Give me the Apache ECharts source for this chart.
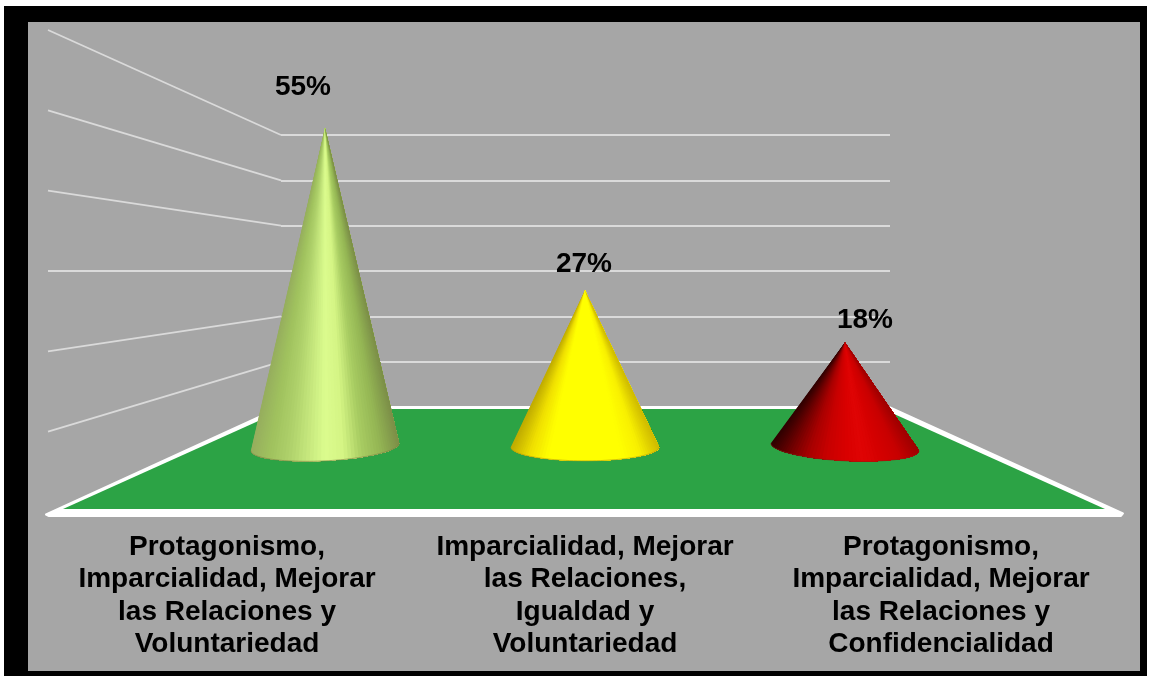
<!DOCTYPE html>
<html>
<head>
<meta charset="utf-8">
<style>
html,body{margin:0;padding:0;background:#fff;width:1151px;height:680px;overflow:hidden}
#outer{position:absolute;left:4px;top:6px;width:1143px;height:670px;background:#000}
#inner{position:absolute;left:28px;top:22px;width:1112px;height:649px;background:#a6a6a6}
#chart{position:absolute;left:0;top:0;width:1151px;height:680px}
</style>
<script src="https://cdn.jsdelivr.net/npm/echarts@6/dist/echarts.min.js"></script>
</head>
<body>
<div id="outer"></div><div id="inner"></div><div id="chart"></div>
<script>
const categories = [
  'Protagonismo,\nImparcialidad, Mejorar\nlas Relaciones y\nVoluntariedad',
  'Imparcialidad, Mejorar\nlas Relaciones,\nIgualdad y\nVoluntariedad',
  'Protagonismo,\nImparcialidad, Mejorar\nlas Relaciones y\nConfidencialidad'
];
const values = [55, 27, 18];
const gridTicks = [10, 20, 30, 40, 50, 60];

const axisMax = 60, axisStep = 10;
const wall = {left: 281, right: 890, top: 135, bottom: 407};
const front = {left: 48, right: 1122, top: 30, bottom: 512};
const coneBox = {left: 195, width: 780, top: 99, bottom: 447};
const categoryLabelShift = [0, 0, -4];
const valueLabelShift = [[-22, -41], [-1, -26], [20, -22]];
const coneRadius = 0.285, coneSquash = 0.187, coneTilt = 0.05;
const conePalettes = [
  ['#96ae5e','#a0c25e','#aed06a','#c4e67c','#dcfc8e','#d4f484','#a8cc62','#94b654','#7c8f48'],
  ['#c0ac00','#f0e000','#ffff00','#ffff00','#ffff00','#ffff00','#ffff00','#f8f000','#d0bc00'],
  ['#300000','#700000','#a80000','#c80000','#d80000','#e00404','#d40000','#c80000','#a00000']
];
const baseEdge = ['#7d7f45', '#b09a10', '#8c2010'];
const font = '"Liberation Sans", Arial, sans-serif';
const lineColor = '#dadada';
const slices = 60;

function renderCone(params, api) {
  const i = api.value(0), v = api.value(1);
  const base = api.coord([i, 0]), apex = api.coord([i, v]);
  const rx = api.size([1, 0])[0] * coneRadius, ry = rx * coneSquash;
  const centre = (coneBox.left + coneBox.width / 2);
  const slope = (base[0] - centre) / (coneBox.width / 3) * coneTilt;
  const pt = t => {
    const dx = rx * Math.cos(t), dy = ry * Math.sin(t);
    return [base[0] + dx, base[1] + dy + dx * slope];
  };
  const rim = [];
  for (let k = 0; k <= slices; k++) rim.push(pt(Math.PI - k / slices * Math.PI));
  const palette = conePalettes[i];
  const children = [];
  // Each slice paints the whole remaining cone, so no anti-aliased seams appear between slices.
  for (let k = 0; k < slices; k++) {
    const mid = Math.PI - (k + 0.5) / slices * Math.PI;
    const u = (Math.cos(mid) + 1) / 2;
    children.push({
      type: 'polygon',
      shape: {points: [apex].concat(rim.slice(k))},
      style: {fill: echarts.color.lerp(u, palette)}
    });
  }
  children.push({
    type: 'polyline', shape: {points: rim},
    style: {fill: null, stroke: baseEdge[i], lineWidth: 1, opacity: 0.6}
  });
  children.push({
    type: 'text',
    style: {
      text: v + '%', x: apex[0] + valueLabelShift[i][0], y: apex[1] + valueLabelShift[i][1],
      align: 'center', verticalAlign: 'middle',
      fontFamily: font, fontWeight: 'bold', fontSize: 28, fill: '#000'
    }
  });
  return {type: 'group', children};
}

function renderSideLine(params, api) {
  const v = api.value(0);
  const frontY = front.bottom - v / axisMax * (front.bottom - front.top);
  const backY = wall.bottom - v / axisMax * (wall.bottom - wall.top);
  return {
    type: 'line',
    shape: {x1: front.left, y1: frontY, x2: wall.left, y2: backY},
    style: {stroke: lineColor, lineWidth: 1.8}
  };
}

const rich = {};
categoryLabelShift.forEach((s, i) => {
  rich['c' + i] = {
    fontFamily: font, fontWeight: 'bold', fontSize: 28, lineHeight: 32.5, color: '#000',
    padding: s >= 0 ? [0, 0, 0, s] : [0, -s, 0, 0]
  };
});

const chart = echarts.init(document.getElementById('chart'), null, {renderer: 'canvas'});
chart.setOption({
  animation: false,
  backgroundColor: 'transparent',
  graphic: [
    {type: 'polygon', z: 1, silent: true,
      shape: {points: [[46,514.5],[49,516],[1121,516],[1123,513.5],[889,407],[281,407]]},
      style: {fill: '#ffffff', stroke: '#ffffff', lineWidth: 2, lineJoin: 'round'}},
    {type: 'polygon', z: 1, silent: true,
      shape: {points: [[63,509],[1105,509],[883,409],[285,409]]},
      style: {fill: '#2ca345'}}
  ],
  grid: [
    {left: wall.left, width: wall.right - wall.left, top: wall.top, height: wall.bottom - wall.top},
    {left: front.left, width: front.right - front.left, top: front.top, height: front.bottom - front.top},
    {left: coneBox.left, width: coneBox.width, top: coneBox.top, height: coneBox.bottom - coneBox.top}
  ],
  xAxis: [
    {gridIndex: 0, type: 'category', data: categories, show: false},
    {gridIndex: 1, type: 'category', data: categories,
      axisLine: {show: false}, axisTick: {show: false},
      axisLabel: {
        margin: 19, interval: 0, hideOverlap: false,
        formatter: (val, idx) => val.split('\n').map(l => '{c' + idx + '|' + l + '}').join('\n'),
        rich
      }},
    {gridIndex: 2, type: 'category', data: categories, show: false}
  ],
  yAxis: [
    {gridIndex: 0, type: 'value', min: 0, max: axisMax, interval: axisStep,
      axisLine: {show: false}, axisTick: {show: false}, axisLabel: {show: false},
      splitLine: {show: true, lineStyle: {color: lineColor, width: 1.8}}},
    {gridIndex: 1, type: 'value', min: 0, max: axisMax, interval: axisStep, show: false, splitLine: {show: false}},
    {gridIndex: 2, type: 'value', min: 0, max: axisMax, interval: axisStep, show: false, splitLine: {show: false}}
  ],
  series: [
    {type: 'custom', xAxisIndex: 1, yAxisIndex: 1, z: 0, silent: true,
      data: gridTicks.map(t => [t]), encode: {y: 0}, renderItem: renderSideLine, clip: false},
    {type: 'custom', name: 'Porcentaje', xAxisIndex: 2, yAxisIndex: 2, z: 3, silent: true, clip: false,
      data: values.map((v, i) => [i, v]), encode: {x: 0, y: 1}, renderItem: renderCone}
  ]
});
</script>
</body>
</html>
